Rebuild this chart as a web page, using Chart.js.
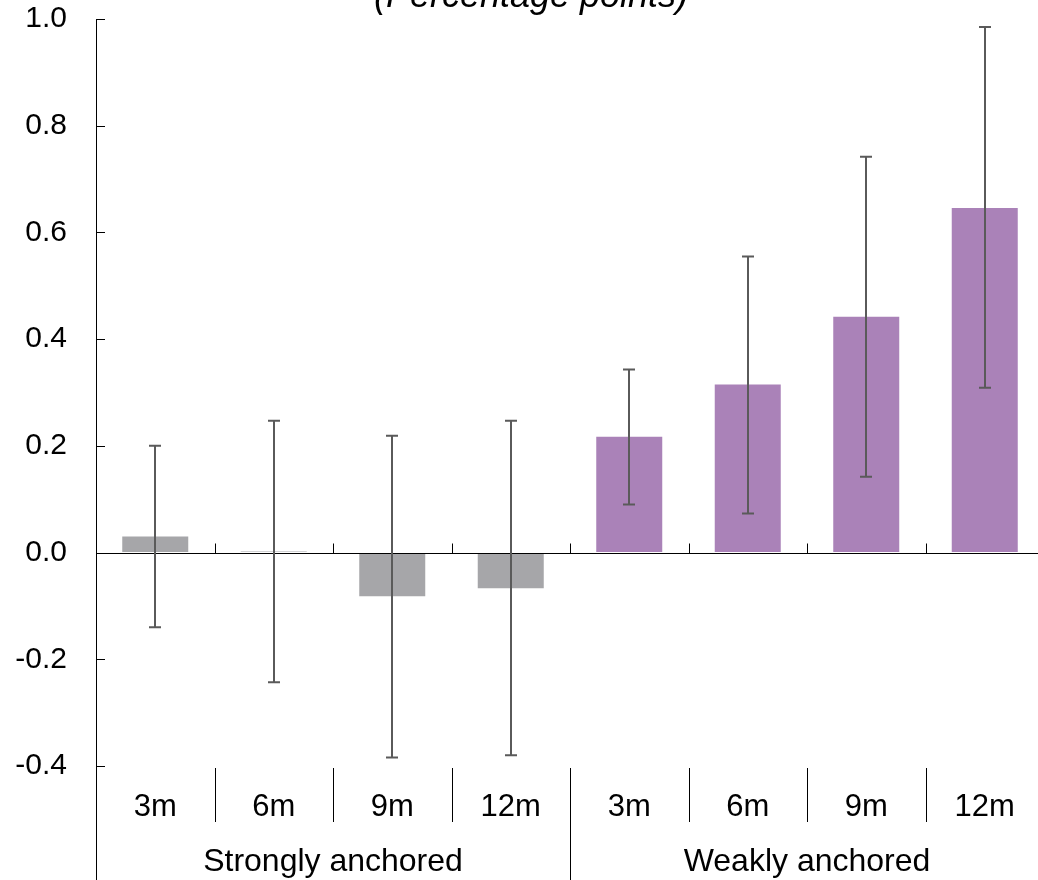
<!DOCTYPE html>
<html>
<head>
<meta charset="utf-8">
<script src="https://cdn.jsdelivr.net/npm/chart.js@4"></script>
<style>
html,body{margin:0;padding:0;background:#fff;overflow:hidden;}
#wrap{width:1046px;height:880px;position:relative;}
</style>
</head>
<body>
<div id="wrap"><canvas id="c"></canvas></div>
<script>
const categories = ['3m','6m','9m','12m','3m','6m','9m','12m'];
const groups = ['Strongly anchored','Weakly anchored'];
const groupSize = 4;
const values = [0.030, 0.002, -0.082, -0.067, 0.217, 0.315, 0.442, 0.646];
const errLow = [-0.140, -0.243, -0.384, -0.380, 0.090, 0.073, 0.142, 0.309];
const errHigh = [0.200, 0.247, 0.219, 0.247, 0.343, 0.555, 0.742, 0.985];
const yTicks = [-0.4, -0.2, 0.0, 0.2, 0.4, 0.6, 0.8, 1.0];
const title = '(Percentage points)';

const GRAY = '#a6a6a9';
const PURPLE = '#aa82b8';
const FONT = '"Liberation Sans", Arial, sans-serif';

const custom = {
  id: 'custom',
  afterDatasetsDraw(chart) {
    const ctx = chart.ctx;
    const x = chart.scales.x, y = chart.scales.y;
    const area = chart.chartArea;
    const n = categories.length;
    const slot = (x.getPixelForValue(1) - x.getPixelForValue(0));
    ctx.save();
    // zero line
    const y0 = Math.round(y.getPixelForValue(0)) + 0.5;
    ctx.strokeStyle = '#000';
    ctx.lineWidth = 1;
    ctx.beginPath();
    ctx.moveTo(area.left, y0); ctx.lineTo(area.right, y0);
    ctx.stroke();
    // small ticks on zero line at category boundaries
    for (let i = 1; i <= n; i++) {
      const bx = Math.round(x.getPixelForValue(i) - slot / 2) + 0.5;
      ctx.beginPath();
      ctx.moveTo(bx, y0); ctx.lineTo(bx, y0 - 10);
      ctx.stroke();
    }
    // y-axis inside tick marks
    yTicks.forEach(v => {
      const ty = Math.round(y.getPixelForValue(v)) + 0.5;
      ctx.beginPath();
      ctx.moveTo(area.left, ty); ctx.lineTo(area.left + 9, ty);
      ctx.stroke();
    });
    // extend y axis line down
    const ax = Math.round(area.left) + 0.5;
    ctx.beginPath();
    ctx.moveTo(ax, area.bottom); ctx.lineTo(ax, chart.height);
    ctx.stroke();
    // error bars
    ctx.strokeStyle = '#5a5a5a';
    ctx.lineWidth = 2;
    for (let i = 0; i < n; i++) {
      const cx = Math.round(x.getPixelForValue(i));
      const yl = y.getPixelForValue(errLow[i]);
      const yh = y.getPixelForValue(errHigh[i]);
      ctx.beginPath();
      ctx.moveTo(cx, yl); ctx.lineTo(cx, yh);
      ctx.moveTo(cx - 6, yl); ctx.lineTo(cx + 6, yl);
      ctx.moveTo(cx - 6, yh); ctx.lineTo(cx + 6, yh);
      ctx.stroke();
    }
    // category labels and separators
    ctx.strokeStyle = '#000';
    ctx.lineWidth = 1;
    ctx.fillStyle = '#000';
    ctx.textAlign = 'center';
    ctx.textBaseline = 'middle';
    ctx.font = '31px ' + FONT;
    const top = area.bottom + 2;
    for (let i = 0; i < n; i++) {
      const cx = x.getPixelForValue(i);
      ctx.fillText(categories[i], cx, area.bottom + 41);
      if (i > 0) {
        const bx = Math.round(cx - slot / 2) + 0.5;
        const isGroup = i % groupSize === 0;
        ctx.beginPath();
        ctx.moveTo(bx, top);
        ctx.lineTo(bx, isGroup ? chart.height : area.bottom + 56);
        ctx.stroke();
      }
    }
    ctx.font = '32px ' + FONT;
    groups.forEach((g, gi) => {
      const a = x.getPixelForValue(gi * groupSize);
      const b = x.getPixelForValue(gi * groupSize + groupSize - 1);
      ctx.fillText(g, (a + b) / 2, area.bottom + 96);
    });
    // title
    ctx.font = 'italic 36px ' + FONT;
    ctx.textBaseline = 'alphabetic';
    ctx.fillText(title, 531, 7);
    ctx.restore();
  }
};

new Chart(document.getElementById('c'), {
  type: 'bar',
  data: {
    labels: categories.map((c, i) => c + '|' + i),
    datasets: [{
      data: values,
      backgroundColor: values.map((v, i) => i < groupSize ? GRAY : PURPLE),
      borderWidth: 0,
      barPercentage: 0.557,
      categoryPercentage: 1.0
    }]
  },
  options: {
    responsive: true,
    maintainAspectRatio: false,
    animation: false,
    events: [],
    layout: { padding: { top: 19, bottom: 114, left: 0, right: 2 } },
    plugins: { legend: { display: false }, tooltip: { enabled: false }, title: { display: false } },
    scales: {
      x: {
        display: false,
        offset: true,
        grid: { display: false }
      },
      y: {
        min: -0.4,
        max: 1.0,
        afterFit(s) { s.width = 96; s.paddingTop = 0; s.paddingBottom = 0; },
        afterBuildTicks(s) { s.ticks = yTicks.map(v => ({ value: v })); },
        ticks: {
          color: '#000',
          padding: 29,
          font: { size: 30, family: FONT },
          callback: v => (Math.abs(v) < 1e-9 ? 0 : v).toFixed(1)
        },
        grid: { display: true, drawTicks: false, drawOnChartArea: false },
        border: { display: true, color: '#000', width: 1 }
      }
    }
  },
  plugins: [custom]
});
</script>
</body>
</html>
